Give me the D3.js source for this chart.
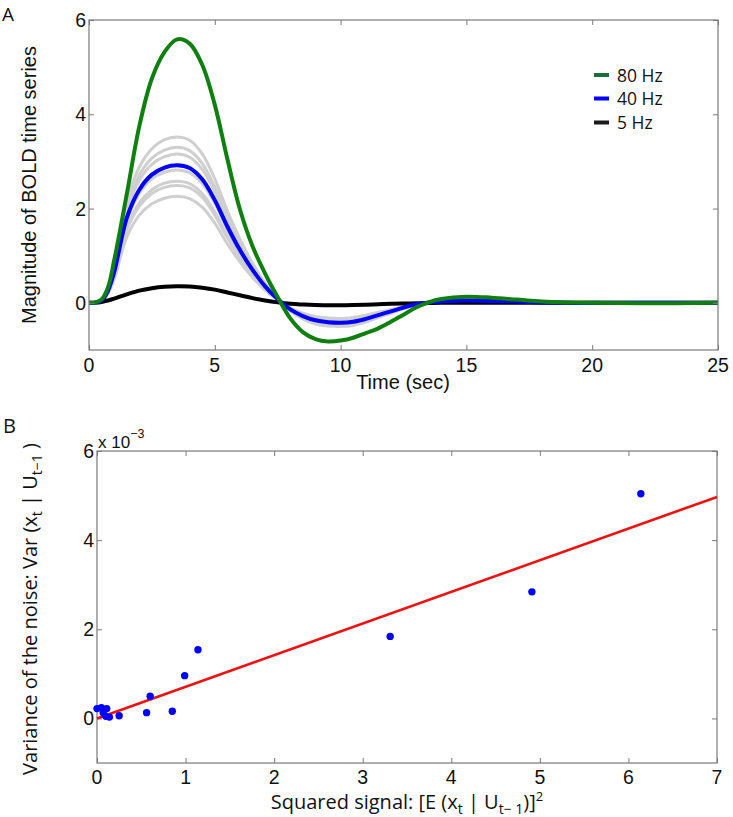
<!DOCTYPE html>
<html><head><meta charset="utf-8">
<script src="https://cdn.jsdelivr.net/npm/d3@7"></script>
<style>body{margin:0;background:#fff}svg{display:block}</style>
</head><body>
<svg id="c" width="733" height="817"></svg>
<script>
// ---------- Panel A data ----------
const timeSec = [0,0.25,0.5,0.75,1,1.5,2,2.5,3,3.5,4,4.5,5,5.5,6,6.5,7,7.5,8,8.5,9,9.5,10,10.5,11,11.5,12,12.5,13,13.5,14,15,16,17,18,19,20,22,25];
const hz80 = [0,0.01,0.07,0.32,0.9,2.3,3.75,4.76,5.32,5.59,5.5,5.05,4.2,3.05,1.98,1.2,0.62,0.12,-0.33,-0.62,-0.77,-0.82,-0.8,-0.74,-0.64,-0.54,-0.4,-0.25,-0.1,0.01,0.08,0.13,0.11,0.07,0.03,0.01,0,-0.01,0];
const hz40 = [0,0.005,0.05,0.25,0.65,1.8,2.4,2.72,2.87,2.92,2.86,2.62,2.18,1.62,1.12,0.7,0.35,0.08,-0.14,-0.28,-0.37,-0.41,-0.42,-0.4,-0.34,-0.26,-0.18,-0.1,-0.03,0.01,0.03,0.05,0.04,0.03,0.01,0,0,0,0];
const hz5  = [0,0.005,0.02,0.05,0.09,0.18,0.26,0.31,0.34,0.35,0.345,0.32,0.28,0.22,0.16,0.1,0.05,0.01,-0.02,-0.035,-0.045,-0.05,-0.05,-0.045,-0.04,-0.03,-0.02,-0.015,-0.01,-0.005,0,0,0,0,0,0,0,0,0];
const gray1 = [0,0.005,0.05,0.3,0.78,2.15,2.88,3.27,3.46,3.52,3.45,3.16,2.63,1.95,1.35,0.84,0.42,0.1,-0.17,-0.34,-0.45,-0.49,-0.5,-0.48,-0.41,-0.31,-0.22,-0.12,-0.04,0.01,0.04,0.06,0.05,0.04,0.01,0,0,0,0];
const gray2 = [0,0.005,0.05,0.28,0.73,2.03,2.71,3.07,3.24,3.3,3.23,2.96,2.46,1.83,1.27,0.79,0.4,0.09,-0.16,-0.32,-0.42,-0.46,-0.47,-0.45,-0.38,-0.29,-0.2,-0.11,-0.03,0.01,0.03,0.06,0.05,0.03,0.01,0,0,0,0];
const gray3 = [0,0.005,0.04,0.27,0.7,1.95,2.6,2.94,3.1,3.16,3.09,2.83,2.36,1.75,1.21,0.76,0.38,0.09,-0.15,-0.3,-0.4,-0.44,-0.45,-0.43,-0.37,-0.28,-0.19,-0.11,-0.03,0.01,0.03,0.05,0.04,0.03,0.01,0,0,0,0];
const gray4 = [0,0.005,0.04,0.24,0.63,1.74,2.32,2.63,2.77,2.82,2.76,2.53,2.11,1.56,1.08,0.68,0.34,0.08,-0.14,-0.27,-0.36,-0.4,-0.41,-0.39,-0.33,-0.25,-0.17,-0.1,-0.03,0.01,0.03,0.05,0.04,0.03,0.01,0,0,0,0];
const gray5 = [0,0.005,0.04,0.22,0.57,1.59,2.12,2.4,2.54,2.58,2.53,2.32,1.93,1.43,0.99,0.62,0.31,0.07,-0.12,-0.25,-0.33,-0.36,-0.37,-0.35,-0.3,-0.23,-0.16,-0.09,-0.03,0.01,0.03,0.04,0.04,0.03,0.01,0,0,0,0];
const gray6 = [0,0.005,0.03,0.21,0.55,1.54,2.05,2.32,2.45,2.49,2.44,2.24,1.86,1.38,0.96,0.6,0.3,0.07,-0.12,-0.24,-0.32,-0.35,-0.36,-0.34,-0.29,-0.22,-0.15,-0.09,-0.03,0.01,0.03,0.04,0.03,0.03,0.01,0,0,0,0];
const gray7 = [0,0.005,0.03,0.19,0.5,1.39,1.86,2.1,2.22,2.26,2.21,2.03,1.69,1.25,0.87,0.54,0.27,0.06,-0.11,-0.22,-0.29,-0.32,-0.33,-0.31,-0.26,-0.2,-0.14,-0.08,-0.02,0.01,0.02,0.04,0.03,0.02,0.01,0,0,0,0];
const legendLabels = ["80 Hz","40 Hz","5 Hz"];
const xTicksA = [0,5,10,15,20,25];
const yTicksA = [0,2,4,6];

// ---------- Panel B data (variance in units of 1e-3) ----------
const sqSignal = [0.0,0.05,0.11,0.07,0.14,0.10,0.25,0.56,0.60,0.85,0.99,1.14,3.31,4.91,6.14];
const noiseVar = [0.22,0.24,0.22,0.13,0.03,0.05,0.06,0.13,0.50,0.16,0.96,1.54,1.84,2.84,5.04];
const fitX = [0,7];
const fitY = [0,4.97];
const xTicksB = [0,1,2,3,4,5,6,7];
const yTicksB = [0,2,4,6];

// ---------- drawing ----------
const svg = d3.select("#c");
svg.append("rect").attr("width",733).attr("height",817).attr("fill","#fff");
const axisCol = "#7a7a7a";
const tickFont = "'Liberation Sans', Arial, sans-serif";
const labFont = "'Open Sans', 'Noto Sans', sans-serif";

function frame(g, x, y, xt, yt, tl, xOff) {
  const [x0,x1] = x.range(), [y0,y1] = y.range();
  const style = s=>{s.select(".domain").remove(); s.selectAll("line").attr("stroke",axisCol);};
  g.append("g").attr("transform",`translate(0,${y0})`)
    .call(d3.axisBottom(x).tickValues(xt).tickSize(-tl).tickSizeOuter(0).tickFormat("")).call(style);
  g.append("g").attr("transform",`translate(0,${y1})`)
    .call(d3.axisTop(x).tickValues(xt).tickSize(-tl).tickSizeOuter(0).tickFormat("")).call(style);
  g.append("g").attr("transform",`translate(${x0},0)`)
    .call(d3.axisLeft(y).tickValues(yt).tickSize(-tl).tickSizeOuter(0).tickFormat("")).call(style);
  g.append("g").attr("transform",`translate(${x1},0)`)
    .call(d3.axisRight(y).tickValues(yt).tickSize(-tl).tickSizeOuter(0).tickFormat("")).call(style);
  g.append("rect").attr("x",x0).attr("y",y1).attr("width",x1-x0).attr("height",y0-y1)
    .attr("fill","none").attr("stroke",axisCol).attr("stroke-width",1.2);
  g.append("g").selectAll("text").data(xt).join("text")
    .attr("x",d=>x(d)).attr("y",y0+xOff).attr("text-anchor","middle")
    .attr("font-family",tickFont).attr("font-size",19.5).attr("fill","#111").text(d=>d);
  g.append("g").selectAll("text").data(yt).join("text")
    .attr("x",x0-3).attr("y",d=>y(d)+7).attr("text-anchor","end")
    .attr("font-family",tickFont).attr("font-size",19.5).attr("fill","#111").text(d=>d);
}

// Panel A
const xA = d3.scaleLinear().domain([0,25]).range([89,718]);
const yA = d3.scaleLinear().domain([-1,6]).range([350,20]);
const gA = svg.append("g");
const line = d3.line().x((d,i)=>xA(timeSec[i])).y(d=>yA(d)).curve(d3.curveCatmullRom.alpha(0.5));
const grays = [gray1,gray2,gray3,gray4,gray5,gray6,gray7];
gA.append("g").selectAll("path").data(grays).join("path")
  .attr("d",line).attr("fill","none").attr("stroke","#cfcfcf").attr("stroke-width",3);
const mainSeries = [{v:hz5,c:"#000000"},{v:hz40,c:"#0000ff"},{v:hz80,c:"#0f800f"}];
gA.append("g").selectAll("path").data(mainSeries).join("path")
  .attr("d",d=>line(d.v)).attr("fill","none").attr("stroke",d=>d.c).attr("stroke-width",4);
frame(gA,xA,yA,xTicksA,yTicksA,5,22);
// legend
const legCols = ["#17703a","#0000ff","#1a1a1a"];
const legY = [75,98.5,122.5];
const lg = gA.append("g");
lg.selectAll("line").data(legendLabels).join("line")
  .attr("x1",594).attr("x2",609).attr("y1",(d,i)=>legY[i]).attr("y2",(d,i)=>legY[i])
  .attr("stroke",(d,i)=>legCols[i]).attr("stroke-width",4);
lg.selectAll("text").data(legendLabels).join("text")
  .attr("x",617).attr("y",(d,i)=>legY[i]+6.5).attr("font-family",labFont).attr("font-size",17.5)
  .attr("fill","#111").text(d=>d);
// labels
svg.append("text").attr("x",2).attr("y",21).attr("font-family",labFont).attr("font-size",19).attr("fill","#111").text("A");
svg.append("text").attr("x",403).attr("y",389).attr("text-anchor","middle").attr("font-family",tickFont)
  .attr("font-size",20).attr("fill","#111").text("Time (sec)");
svg.append("text").attr("transform","translate(36,185) rotate(-90)").attr("text-anchor","middle")
  .attr("font-family",tickFont).attr("font-size",20).attr("fill","#111").text("Magnitude of BOLD time series");

// Panel B
const xB = d3.scaleLinear().domain([0,7]).range([97,717]);
const yB = d3.scaleLinear().domain([-1,6]).range([763,451]);
const gB = svg.append("g");
frame(gB,xB,yB,xTicksB,yTicksB,5,21);
gB.append("path").datum(fitX.map((d,i)=>[d,fitY[i]]))
  .attr("d",d3.line().x(d=>xB(d[0])).y(d=>yB(d[1])))
  .attr("fill","none").attr("stroke","#ee1111").attr("stroke-width",2.6);
gB.append("g").selectAll("circle").data(sqSignal).join("circle")
  .attr("cx",d=>xB(d)).attr("cy",(d,i)=>yB(noiseVar[i])).attr("r",3.7).attr("fill","#0000ff");
// exponent
const ex = svg.append("text").attr("x",98).attr("y",448).attr("font-family",tickFont).attr("font-size",17).attr("fill","#111");
ex.append("tspan").text("x 10");
ex.append("tspan").attr("dy",-10).attr("font-size",12.5).text("\u22123");
svg.append("text").attr("x",3).attr("y",433).attr("font-family",labFont).attr("font-size",20).attr("fill","#111").text("B");
// x label
const xl = svg.append("text").attr("x",407).attr("y",809).attr("text-anchor","middle")
  .attr("font-family",labFont).attr("font-size",20).attr("fill","#111");
xl.append("tspan").text("Squared signal:  [E (x");
xl.append("tspan").attr("dy",5).attr("font-size",14).text("t");
xl.append("tspan").attr("dy",-5).text(" | U");
xl.append("tspan").attr("dy",5).attr("font-size",14).text("t\u2212 1");
xl.append("tspan").attr("dy",-5).text(")]");
xl.append("tspan").attr("dy",-8).attr("font-size",13).text("2");
// y label
const yl = svg.append("text").attr("transform","translate(37,609) rotate(-90)").attr("text-anchor","middle")
  .attr("font-family",labFont).attr("font-size",20).attr("fill","#111");
yl.append("tspan").text("Variance of the noise:  Var (x");
yl.append("tspan").attr("dy",5).attr("font-size",14).text("t");
yl.append("tspan").attr("dy",-5).text(" | U");
yl.append("tspan").attr("dy",5).attr("font-size",14).text("t\u22121");
yl.append("tspan").attr("dy",-5).text(" )");
</script>
</body></html>
